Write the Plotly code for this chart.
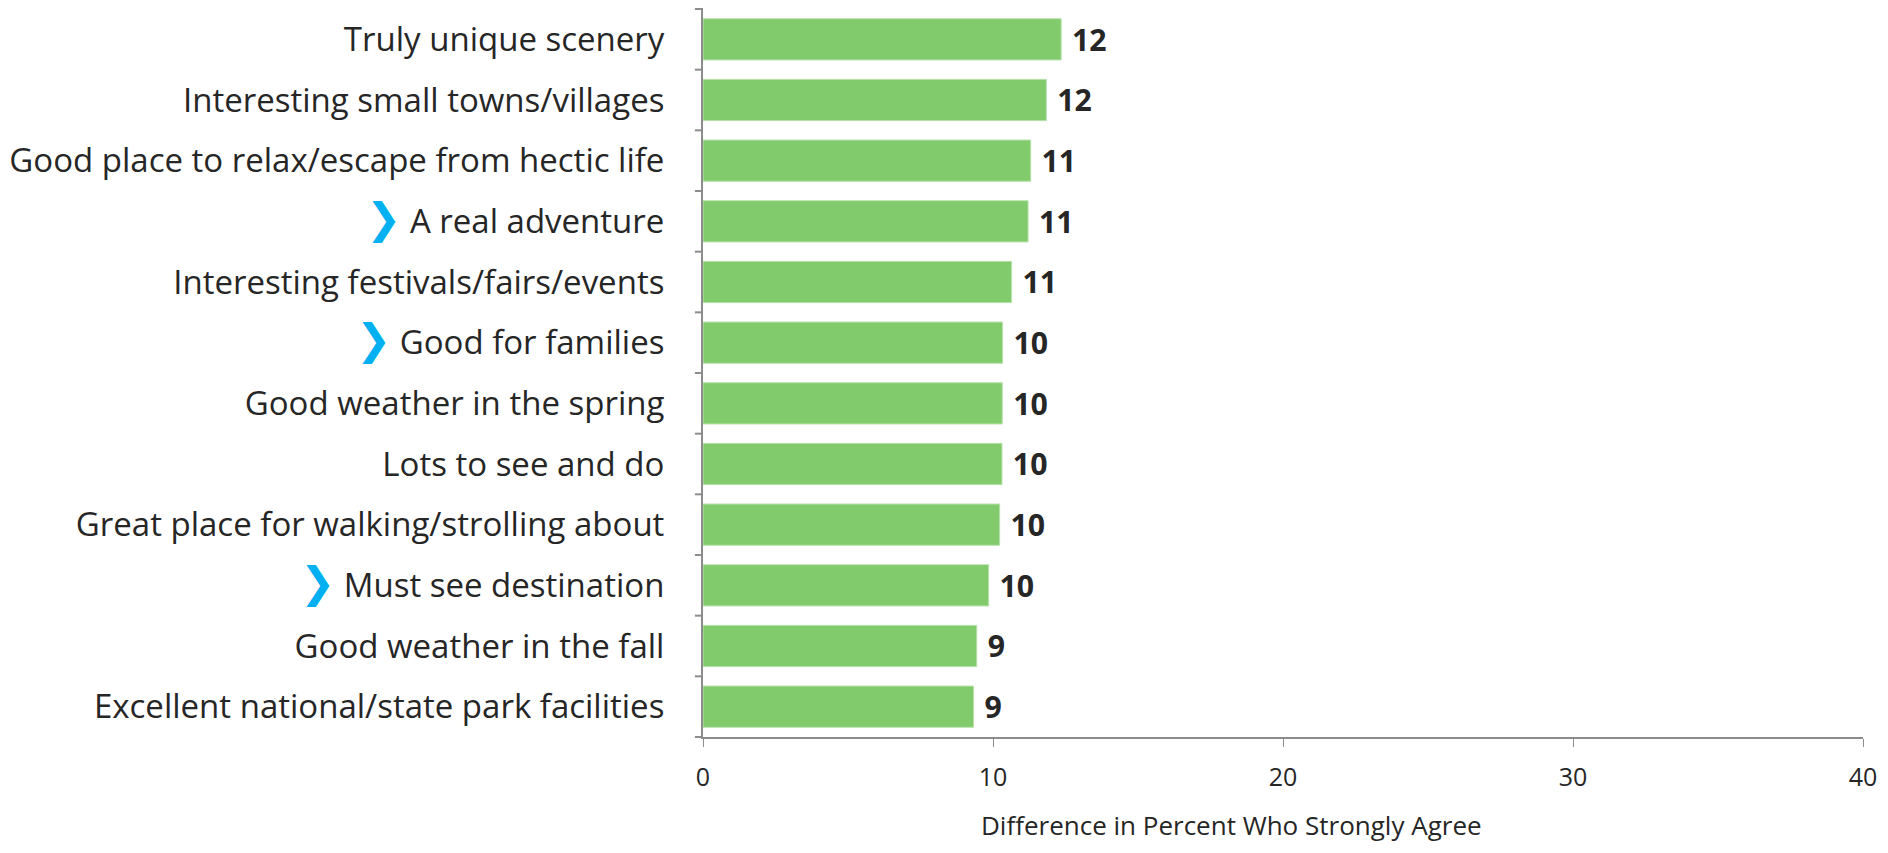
import plotly.graph_objects as go

categories = [
    "Truly unique scenery",
    "Interesting small towns/villages",
    "Good place to relax/escape from hectic life",
    "A real adventure",
    "Interesting festivals/fairs/events",
    "Good for families",
    "Good weather in the spring",
    "Lots to see and do",
    "Great place for walking/strolling about",
    "Must see destination",
    "Good weather in the fall",
    "Excellent national/state park facilities",
]
values = [12.35, 11.84, 11.30, 11.21, 10.64, 10.33, 10.32, 10.31, 10.23, 9.85, 9.44, 9.33]
highlighted = ["A real adventure", "Good for families", "Must see destination"]
x_ticks = [0, 10, 20, 30, 40]

CHEV = ("<span style='color:#00B0F0;font-family:DejaVu Sans;font-weight:bold;font-size:42px'>"
        "\u276F</span>\u00a0")
tick_text = [(CHEV + c if c in highlighted else c) for c in categories]

FONT = "Open Sans"

fig = go.Figure(go.Bar(
    y=categories,
    x=values,
    orientation="h",
    marker=dict(color="#82CB6D", line=dict(color="#B8E2AC", width=1)),
    text=[f"\u00a0{round(v)}" for v in values],
    textposition="outside",
    textfont=dict(family=FONT, size=33, color="#262626", weight="bold"),
    cliponaxis=False,
    width=0.68,
))

# page body has an 8px margin: figure is sized/offset to compensate
fig.update_layout(
    width=1872, height=837,
    margin=dict(l=693, r=17, t=1, b=108),
    plot_bgcolor="white", paper_bgcolor="white",
    showlegend=False,
    font=dict(family=FONT, color="#262626"),
    annotations=[dict(
        text="Difference in Percent Who Strongly Agree",
        xref="paper", yref="paper", x=0.456, y=-0.121, xanchor="center", yanchor="middle",
        showarrow=False, font=dict(family=FONT, size=26, color="#262626"),
    )],
)
fig.update_yaxes(
    categoryorder="array", categoryarray=categories, autorange="reversed",
    tickmode="array", tickvals=categories, ticktext=tick_text,
    tickfont=dict(family=FONT, size=33, color="#262626"),
    showline=True, linecolor="#8C8C8C", linewidth=2,
    ticks="outside", ticklen=0, ticklabelstandoff=30,
    showgrid=False, zeroline=False,
)
fig.update_xaxes(
    range=[0, 40], tickmode="array", tickvals=x_ticks,
    tickfont=dict(family=FONT, size=25, color="#262626"),
    showline=True, linecolor="#8C8C8C", linewidth=2,
    ticks="outside", ticklen=8, tickcolor="#8C8C8C", tickwidth=1,
    showgrid=False, zeroline=False, ticklabelstandoff=9,
)
shapes = []
n = len(categories)
for i in range(n + 1):
    shapes.append(dict(type="line", xref="paper", yref="paper",
                       x0=-0.007, x1=0, y0=i / n, y1=i / n,
                       line=dict(color="#8C8C8C", width=2)))
fig.update_layout(shapes=shapes)

fig.write_html("out.html")
